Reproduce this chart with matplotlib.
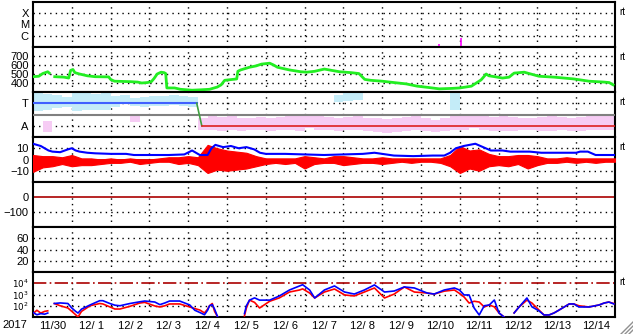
import numpy as np
import matplotlib
matplotlib.use('Agg')
import matplotlib.pyplot as plt
from matplotlib.lines import Line2D

nan = np.nan
plt.rcParams['font.family'] = ['Liberation Sans', 'DejaVu Sans']

# time is in days since 2017-11-30 00:00
year_label = '2017'
day_labels = ['11/30', '12/ 1', '12/ 2', '12/ 3', '12/ 4', '12/ 5', '12/ 6', '12/ 7',
              '12/ 8', '12/ 9', '12/10', '12/11', '12/12', '12/13', '12/14']

# X-ray flares (W/m2)
xray_t = [1.60, 10.47, 11.04, 13.92, 14.25, 14.92]
xray_flux = [1.1e-7, 1.8e-7, 6.5e-7, 1.2e-7, 1.2e-7, 1.1e-7]

# solar wind speed (km/s)
speed_t = [0.00, 0.15, 0.25, 0.38, 0.42, 0.48, 0.56, 0.80, 0.92, 0.97, 1.03, 1.08, 1.20, 1.40,
           1.60, 1.95, 2.00, 2.10, 2.50, 2.70, 2.80, 2.95, 3.05, 3.12, 3.20, 3.30, 3.38, 3.42,
           3.45, 3.65, 3.80, 4.10, 4.35, 4.55, 4.75, 4.85, 4.94, 5.25, 5.28, 5.35, 5.58, 5.75,
           5.89, 6.10, 6.20, 6.30, 6.61, 6.90, 7.05, 7.26, 7.51, 7.70, 7.90, 8.20, 8.40, 8.55,
           8.70, 9.00, 9.30, 9.62, 9.90, 10.20, 10.47, 10.80, 11.00, 11.30, 11.55, 11.68, 11.75,
           11.90, 12.10, 12.27, 12.40, 12.66, 13.04, 13.43, 13.94, 14.33, 14.72, 14.85, 14.95]
speed_v = [470, 475, 505, 525, 510, nan, 470, 465, 455, 540, 550, 515, 500, 480,
           470, 468, 440, 420, 415, 410, 400, 405, 415, 450, 500, 520, 515, 505,
           345, 345, 330, 320, 325, 330, 355, 380, 430, 445, 530, 545, 575, 590,
           610, 620, 600, 575, 545, 525, 520, 530, 555, 540, 525, 515, 505, 440,
           430, 420, 405, 390, 365, 350, 335, 340, 345, 365, 435, 500, 480,
           470, 455, 465, 510, 520, 475, 465, 445, 420, 410, 405, 380]

# IMF sector (deg): blue = toward, red = away
sector_t = [0.0, 4.22, 4.35, 15.0]
sector_a = [270, 270, 90, 90]

# IMF angle scatter envelope, every 6 h (deg)
band_t = np.arange(0, 15.01, 0.25)
tow_lo = [210, 215, 230, 240, 210, 220, 215, 220, 240, 270, 250, 240, 250, 250, 255, 250,
          240, 230, nan, nan, nan, 250, nan, nan, nan, nan, nan, nan, 260, nan, nan, 280,
          290, 300, 270, nan, 290, nan, nan, nan, nan, nan, nan, 220, 290, nan, nan, 230,
          nan, nan, nan, nan, nan, nan, nan, 300, nan, nan, nan, nan, nan]
tow_hi = [350, 345, 340, 320, 350, 350, 345, 350, 330, 340, 310, 320, 330, 330, 335, 330,
          320, 300, nan, nan, nan, 350, nan, nan, nan, nan, nan, nan, 350, nan, nan, 340,
          350, 350, 340, nan, 350, nan, nan, nan, nan, nan, nan, 350, 350, nan, nan, 330,
          nan, nan, nan, nan, nan, nan, nan, 350, nan, nan, nan, nan, nan]
away_lo = [nan, 40, 20, nan, nan, nan, nan, nan, nan, nan, 120, 130, nan, nan, nan, nan,
           nan, 60, 60, 50, 55, 50, 60, 55, 50, 55, 60, 50, 70, 60, 55, 50,
           55, 60, 45, 40, 35, 40, 50, 60, 45, 40, 50, 55, 60, 70, 55, 50,
           45, 50, 55, 60, 50, 50, 55, 45, 50, 60, 55, 60, 70]
away_hi = [nan, 130, 110, nan, nan, nan, nan, nan, nan, nan, 170, 170, nan, nan, nan, nan,
           nan, 150, 170, 160, 165, 150, 155, 160, 150, 160, 170, 175, 180, 165, 160, 150,
           160, 170, 150, 150, 145, 150, 160, 165, 150, 140, 150, 170, 175, 170, 165, 160,
           170, 160, 150, 155, 160, 165, 160, 155, 160, 170, 165, 175, 180]

# IMF Bt (nT)
bt_t = [0.0, 0.1, 0.2, 0.3, 0.4, 0.5, 0.7, 0.9, 1.0, 1.1, 1.2, 1.4, 1.6, 2.0, 2.4, 2.6, 3.0,
        3.5, 3.9, 4.1, 4.2, 4.3, 4.5, 4.6, 4.7, 4.9, 5.1, 5.3, 5.5, 5.7, 5.85, 6.0, 6.5, 7.0,
        7.5, 8.0, 8.5, 8.8, 9.0, 9.3, 9.8, 10.3, 10.6, 10.75, 10.9, 11.1, 11.4, 11.6, 11.8,
        12.1, 12.3, 12.5, 12.8, 13.1, 13.6, 14.0, 14.1, 14.3, 14.5, 15.0]
bt_v = [14, 13, 12, 10, 8, 7, 6.5, 9, 10, 8, 7, 6, 5.5, 5, 5, 4, 4,
        4, 4.5, 8, 6, 4, 4, 10, 13, 11, 12, 10, 11, 9, 6, 5, 5, 4.5,
        4, 4.5, 5, 6, 5, 3.5, 3, 3.5, 3.5, 6, 10, 12, 14, 11, 8,
        8, 7, 7, 7, 6, 6, 6, 7, 7, 4, 4]

# IMF Bz envelope, every 6 h (nT)
bz_lo = [-11, -7, -6, -4, -6, -5, -5, -4, -3, -3, -2, -4, -3, -2, -2, -4,
         -3, -5, -12, -9, -10, -9, -8, -6, -4, -3, -4, -3, -8, -4, -3, -3,
         -5, -4, -3, -3, -4, -3, -2, -3, -2, -2, -3, -6, -12, -8, -10, -6,
         -5, -6, -4, -8, -5, -3, -3, -2, -3, -2, -3, -2, -2]
bz_hi = [4, 3, 3, 2, 4, 1, 1, 0, 1, 0, 1, 0, 0, 1, 2, 2,
         3, 2, 13, 10, 8, 7, 6, 3, 1, 1, 1, 1, 3, 2, 1, 3,
         3, 2, 1, 1, 2, 1, 1, 1, 1, 1, 1, 4, 12, 8, 9, 5,
         3, 3, 4, 4, 3, 1, 1, 2, 1, 1, 1, 1, 1]

# electron flux, log10
flux_t = [0.0, 0.1, 0.2, 0.3, 0.38, 0.45, 0.55, 0.7, 0.9, 1.0, 1.1, 1.16, 1.25, 1.47, 1.72,
          1.8, 1.98, 2.11, 2.24, 2.5, 2.75, 2.88, 3.14, 3.27, 3.4, 3.52, 3.78, 4.04, 4.17,
          4.3, 4.42, 4.5, 4.55, 4.62, 4.68, 4.76, 5.0, 5.45, 5.5, 5.58, 5.71, 5.84, 6.10,
          6.35, 6.61, 6.87, 6.95, 7.13, 7.26, 7.51, 7.77, 8.03, 8.28, 8.54, 8.80, 9.06,
          9.31, 9.57, 9.83, 10.16, 10.34, 10.60, 10.86, 10.99, 11.11, 11.24, 11.37, 11.50,
          11.63, 11.76, 11.89, 12.01, 12.14, 12.25, 12.40, 12.53, 12.73, 12.86, 13.04,
          13.17, 13.30, 13.43, 13.56, 13.69, 13.82, 13.94, 14.07, 14.33, 14.59, 14.72,
          14.84, 14.97]
flux_blue = [1.4, 1.2, 1.3, 1.25, 1.35, nan, 2.2, 2.25, 2.2, 1.8, 1.5, 1.35, 1.7, 2.07, 2.45,
             2.45, 2.2, 2.05, 2.0, 2.2, 2.35, 2.42, 2.33, 2.1, 2.25, 2.42, 2.42, 2.07, 1.6,
             1.4, 1.2, 1.6, 2.0, 2.1, 1.7, 1.0, nan, 1.3, 2.0, 2.5, 2.7, 2.5, 2.5,
             2.87, 3.4, 3.76, 3.87, 3.4, 2.69, 3.4, 3.76, 3.22, 3.04, 3.4, 3.85, 3.22,
             3.31, 3.67, 3.58, 3.13, 3.04, 3.4, 3.58, 3.4, 2.96, 2.96, 1.8, 1.18,
             2.0, 2.07, 2.51, 1.36, 1.0, nan, 1.36, 1.9, 2.69, 1.9, 1.55,
             1.18, 1.18, 1.36, 1.62, 1.89, 2.16, 2.16, 1.89, 1.89, 2.07, 2.24,
             2.33, 2.16]
flux_red = [1.3, 1.6, 1.35, 1.5, 1.55, nan, 2.2, 2.0, 1.8, 1.5, 1.2, 1.0, 1.5, 2.0, 2.2,
            2.16, 1.9, 1.71, 1.71, 1.95, 2.24, 2.3, 1.98, 1.89, 2.0, 2.16, 2.16, 1.89, 1.75,
            1.62, 1.36, 1.7, 2.0, 2.2, 1.5, 1.0, nan, 1.1, 1.8, 2.5, 2.3, 1.8, 2.4,
            2.7, 3.22, 3.4, 3.5, 3.13, 2.69, 3.22, 3.49, 2.96, 2.87, 3.22, 3.58, 2.69,
            3.04, 3.67, 3.22, 3.13, 3.04, 3.3, 3.4, 3.1, 2.78, 2.24, 2.4, 2.33,
            1.89, 2.07, 1.9, 1.36, 1.0, nan, 1.36, 1.9, 2.5, 2.24, 1.62,
            1.18, 1.18, 1.36, 1.62, 1.89, 2.16, 2.16, 2.0, 1.89, 2.07, 2.24,
            2.33, 2.2]

alert_flux = 1e4

W, H = 633, 334
fig = plt.figure(figsize=(W / 100, H / 100), dpi=100)
x0, x1 = 33 / W, 615 / W
ph = 45
axes = []
for i in range(7):
    top = 2 + ph * i
    ax = fig.add_axes([x0, 1 - (top + ph) / H, x1 - x0, ph / H])
    ax.set_xlim(0, 15)
    ax.set_xticks([])
    ax.tick_params(axis='y', length=0, labelsize=8, pad=3)
    for s in ax.spines.values():
        s.set_linewidth(1.5)
    for d in range(1, 15):
        ax.axvline(d, color='black', lw=1, ls=(0, (1, 3)), zorder=1)
    axes.append(ax)

dot = dict(color='black', lw=1, ls=(0, (1, 3)), zorder=1)

# 1: X-ray
ax = axes[0]
ax.set_yscale('log')
ax.set_ylim(1e-7, 1e-3)
ax.set_yticks([1e-6, 1e-5, 1e-4])
ax.set_yticklabels(['C', 'M', 'X'])
ax.minorticks_off()
for v in [1e-6, 1e-5, 1e-4]:
    ax.axhline(v, **dot)
ax.vlines(xray_t, 1e-7, xray_flux, color='#ff00ff', lw=1.2, zorder=3)

# 2: speed
ax = axes[1]
ax.set_ylim(300, 800)
ax.set_yticks([400, 500, 600, 700])
for v in [400, 500, 600, 700]:
    ax.axhline(v, **dot)
ax.plot(speed_t, speed_v, color='#22ee22', lw=2, zorder=3)

# 3: IMF sector
ax = axes[2]
ax.set_ylim(0, 360)
ax.set_yticks([90, 270])
ax.set_yticklabels(['A', 'T'])
for v in [90, 270]:
    ax.axhline(v, **dot)
ax.fill_between(band_t, tow_lo, tow_hi, step='post', color='#c4ecf8', lw=0, zorder=2)
ax.fill_between(band_t, away_lo, away_hi, step='post', color='#f6ccf4', lw=0, zorder=2)
ax.axhline(180, color='#808080', lw=1.5, zorder=3)
ax.plot(sector_t[:2], sector_a[:2], color='#4060ff', lw=1.5, zorder=4)
ax.plot(sector_t[1:3], sector_a[1:3], color='#40a040', lw=1.2, zorder=4)
ax.plot(sector_t[2:], sector_a[2:], color='#dd2020', lw=1.2, zorder=4)

# 4: Bt / Bz
ax = axes[3]
ax.set_ylim(-20, 20)
ax.set_yticks([-10, 0, 10])
for v in [-10, 10]:
    ax.axhline(v, **dot)
ax.axhline(0, color='#aa0000', lw=1.2, zorder=2)
ax.fill_between(band_t, bz_lo, bz_hi, color='#ff0000', lw=0.8, zorder=3)
ax.plot(bt_t, bt_v, color='#0000ff', lw=1.5, zorder=4)

# 5: Dst
ax = axes[4]
ax.set_ylim(-200, 100)
ax.set_yticks([-100, 0])
ax.axhline(-100, **dot)
ax.axhline(0, color='#aa0000', lw=1.2, zorder=2)

# 6: Kp
ax = axes[5]
ax.set_ylim(0, 80)
ax.set_yticks([20, 40, 60])
for v in [20, 40, 60]:
    ax.axhline(v, **dot)

# 7: electron flux
ax = axes[6]
ax.set_yscale('log')
ax.set_ylim(10, 1e5)
ax.set_yticks([1e2, 1e3, 1e4])
ax.set_yticklabels(['$10^2$', '$10^3$', '$10^4$'])
ax.tick_params(axis='y', labelsize=6.3)
ax.minorticks_off()
for v in [1e2, 1e3]:
    ax.axhline(v, **dot)
ax.axhline(alert_flux, color='#aa0000', lw=1.2, ls=(0, (8, 2, 1, 2)), zorder=2)
ax.plot(flux_t, 10 ** np.array(flux_red), color='#ff0000', lw=1.2, zorder=3)
ax.plot(flux_t, 10 ** np.array(flux_blue), color='#0000ff', lw=1.2, zorder=4)
ax.set_xticks(np.arange(15) + 0.5)
ax.set_xticklabels(day_labels)
ax.tick_params(axis='x', length=0, labelsize=8, pad=3)

for i in [0, 1, 2, 3, 6]:
    axes[i].text(1.008, 0.78, 'rt', transform=axes[i].transAxes, fontsize=7,
                 ha='left', va='center')

fig.text(2 / W, 1 - 325 / H, year_label, fontsize=8, ha='left', va='center')

# resize grip in the corner
for k in [4, 8, 12]:
    fig.add_artist(Line2D([(W - k) / W, 1], [0, k / H], color='#909090', lw=1))

fig.savefig('out.png', dpi=100)
